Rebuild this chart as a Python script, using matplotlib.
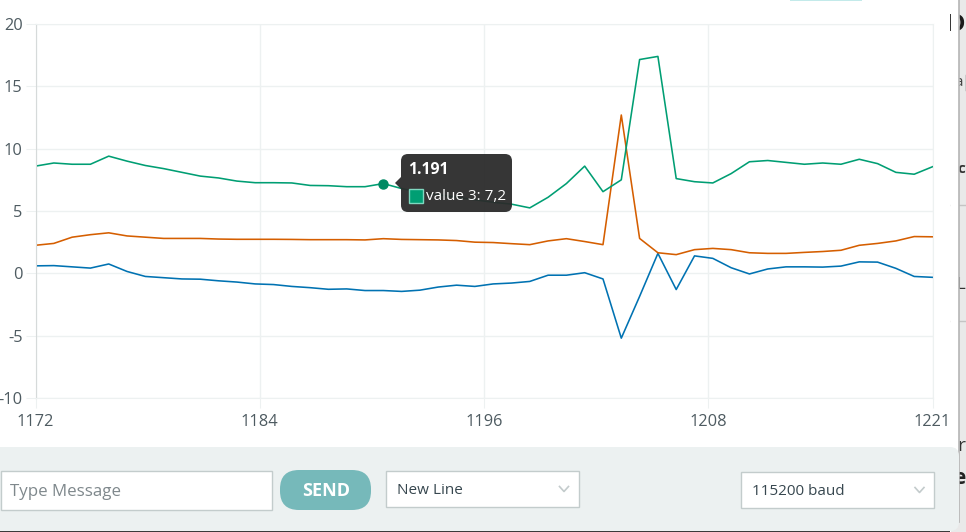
import matplotlib
matplotlib.use("Agg")
import matplotlib.pyplot as plt
from matplotlib.patches import FancyBboxPatch, Rectangle, Polygon

BLUE = "#0072b2"
ORANGE = "#d55e00"
GREEN = "#009e73"
GRID = "#edf1f1"
TICK = "#4e5b61"
PANEL = "#ecf1f1"

plt.rcParams["font.family"] = ["Open Sans", "DejaVu Sans"]

samples = list(range(1172, 1222))
value_1 = [0.6, 0.62, 0.52, 0.42, 0.75, 0.15, -0.25, -0.35, -0.45, -0.47,
           -0.6, -0.7, -0.85, -0.9, -1.05, -1.15, -1.28, -1.25, -1.38, -1.38,
           -1.45, -1.35, -1.1, -0.95, -1.05, -0.85, -0.78, -0.65, -0.15, -0.15,
           0.05, -0.45, -5.2, -1.85, 1.6, -1.3, 1.4, 1.2, 0.45, -0.05,
           0.35, 0.52, 0.52, 0.5, 0.58, 0.92, 0.9, 0.4, -0.25, -0.32]
value_2 = [2.25, 2.4, 2.9, 3.1, 3.25, 3.0, 2.9, 2.8, 2.8, 2.8,
           2.75, 2.73, 2.73, 2.73, 2.72, 2.7, 2.7, 2.7, 2.68, 2.78,
           2.72, 2.7, 2.68, 2.63, 2.5, 2.47, 2.38, 2.3, 2.6, 2.78,
           2.55, 2.3, 12.7, 2.8, 1.65, 1.5, 1.9, 2.0, 1.9, 1.65,
           1.6, 1.6, 1.68, 1.75, 1.85, 2.25, 2.4, 2.6, 2.95, 2.93]
value_3 = [8.6, 8.85, 8.75, 8.75, 9.4, 9.0, 8.65, 8.4, 8.1, 7.8,
           7.65, 7.4, 7.27, 7.27, 7.25, 7.05, 7.03, 6.95, 6.95, 7.2,
           6.8, 6.5, 6.3, 6.1, 5.9, 5.7, 5.55, 5.25, 6.1, 7.2,
           8.6, 6.55, 7.5, 17.15, 17.4, 7.6, 7.35, 7.25, 8.0, 8.95,
           9.05, 8.9, 8.75, 8.85, 8.75, 9.15, 8.8, 8.1, 7.95, 8.55]
# the plotter spaces its x grid evenly, so the labels are rounded down
x_ticks = [1172, 1184.25, 1196.5, 1208.75, 1221]
x_labels = ["1172", "1184", "1196", "1208", "1221"]
y_ticks = [-10, -5, 0, 5, 10, 15, 20]
y_labels = ["-10", "-5", "0", "5", "10", "15", "20"]
hover_x = 1191
hover_y = 7.2

W, H = 966, 532
fig = plt.figure(figsize=(W / 100, H / 100), dpi=100, facecolor="white")

# chart area, in pixel positions of the screenshot
left, right, top, bottom = 35.5, 932.5, 24, 398
ax = fig.add_axes([left / W, 1 - bottom / H, (right - left) / W, (bottom - top) / H])
ax.plot(samples, value_1, color=BLUE, lw=1.15)
ax.plot(samples, value_2, color=ORANGE, lw=1.15)
ax.plot(samples, value_3, color=GREEN, lw=1.15)
ax.plot([hover_x], [hover_y], "o", color="#008a64", ms=6.5, zorder=5)
ax.set_xlim(1172, 1221)
ax.set_ylim(-10, 20)
ax.set_xticks(x_ticks, x_labels)
ax.set_yticks(y_ticks, y_labels)
ax.grid(color=GRID, lw=1)
ax.set_axisbelow(True)
ax.tick_params(length=7.2, width=0.8, color=GRID, labelsize=11.8, labelcolor=TICK)
ax.tick_params(axis="y", pad=2)
ax.tick_params(axis="x", pad=4)
for side in ["top", "right", "bottom"]:
    ax.spines[side].set_color(GRID)
ax.spines["left"].set_color("#d6dada")

# everything else on the screenshot goes on a pixel overlay
ui = fig.add_axes([0, 0, 1, 1], facecolor="none")
ui.set_xlim(0, W)
ui.set_ylim(H, 0)
ui.axis("off")


def box(x, y, w, h, fc, ec="none", r=0.0, lw=1, alpha=None, z=2):
    style = f"round,pad=0,rounding_size={r}" if r else "square,pad=0"
    ui.add_patch(FancyBboxPatch((x, y), w, h, boxstyle=style, fc=fc, ec=ec,
                                lw=lw, alpha=alpha, zorder=z))


# tooltip
box(401, 154, 111, 58, "#2b2b2b", r=7, alpha=0.95, z=6)
ui.add_patch(Polygon([[401, 177], [395, 183], [401, 189]], fc="#2b2b2b", ec="none", alpha=0.95, zorder=6))
ui.text(408, 170.5, "1.191", color="white", fontsize=11.3, fontweight="bold", va="center", zorder=7)
ui.add_patch(Rectangle((409, 189), 14, 14, fc=GREEN, ec="#7fd8c0", lw=1, zorder=7))
ui.text(425.5, 197, "value 3: 7,2", color="white", fontsize=11, va="center", zorder=7)

# page behind the dialog, its text is partly hidden by the dialog edge
ui.add_patch(Rectangle((951, 0), 15, H, fc="#e9e9e9", ec="none", zorder=0.5))
for y in [205, 321]:
    ui.plot([951, 966], [y, y], color="#c4c4c4", lw=1, zorder=0.6)
ui.text(965, 25, "D", fontsize=17, fontweight="bold", color="#1c1c1c", ha="right", va="center", zorder=1)
ui.text(962.5, 82, "a", fontsize=11, color="#444444", ha="right", va="center", zorder=1)
ui.plot([965.5, 965.5], [75, 90], color="#555555", lw=1, zorder=1)
ui.text(965, 169, "c", fontsize=11, fontweight="bold", color="#333333", ha="right", va="center", zorder=1)
ui.text(965, 285, "L", fontsize=12, color="#333333", ha="right", va="center", zorder=1)
ui.text(965, 446, "r", fontsize=14, color="#333333", ha="right", va="center", zorder=1)
ui.text(965, 478, "e", fontsize=15, fontweight="bold", color="#222222", ha="right", va="center", zorder=1)
ui.add_patch(Rectangle((0, 530), 950, 2, fc="#3a3a3a", ec="none", zorder=0.5))

# dialog body and its grey edge
ui.add_patch(Rectangle((950.5, 0), 8.5, 500, fc="white", ec="none", zorder=1.5))
ui.plot([959, 959], [0, 522], color="#b5b5b5", lw=1.2, zorder=1.6)

# bottom panel
box(-12, 447, 971, 84, PANEL, r=9, z=1.7)
ui.add_patch(Rectangle((790, -3), 72, 3.8, fc="#c3eaea", ec="none", zorder=2))

box(1, 470.5, 271, 39, "white", ec="#c3cccc")
ui.text(10, 491.5, "Type Message", color="#7f888c", fontsize=12.2, va="center", zorder=3)
box(280, 470, 91, 40, "#76b9ba", r=19)
ui.text(326, 490.5, "SEND", color="white", fontsize=13, fontweight="bold", ha="center", va="center", zorder=3)
box(386, 470.5, 193, 36, "white", ec="#c3cccc")
ui.text(397, 490, "New Line", color="#37474f", fontsize=11, va="center", zorder=3)
box(741, 471.5, 193, 36, "white", ec="#c3cccc")
ui.text(752, 491.5, "115200 baud", color="#37474f", fontsize=11, va="center", zorder=3)
for cx, cy in [(564, 489), (919.5, 490)]:
    ui.plot([cx - 4.5, cx, cx + 4.5], [cy - 2.5, cy + 2.5, cy - 2.5], color="#c3cbcc", lw=1.2, zorder=3)

fig.savefig("out.png", dpi=100)
